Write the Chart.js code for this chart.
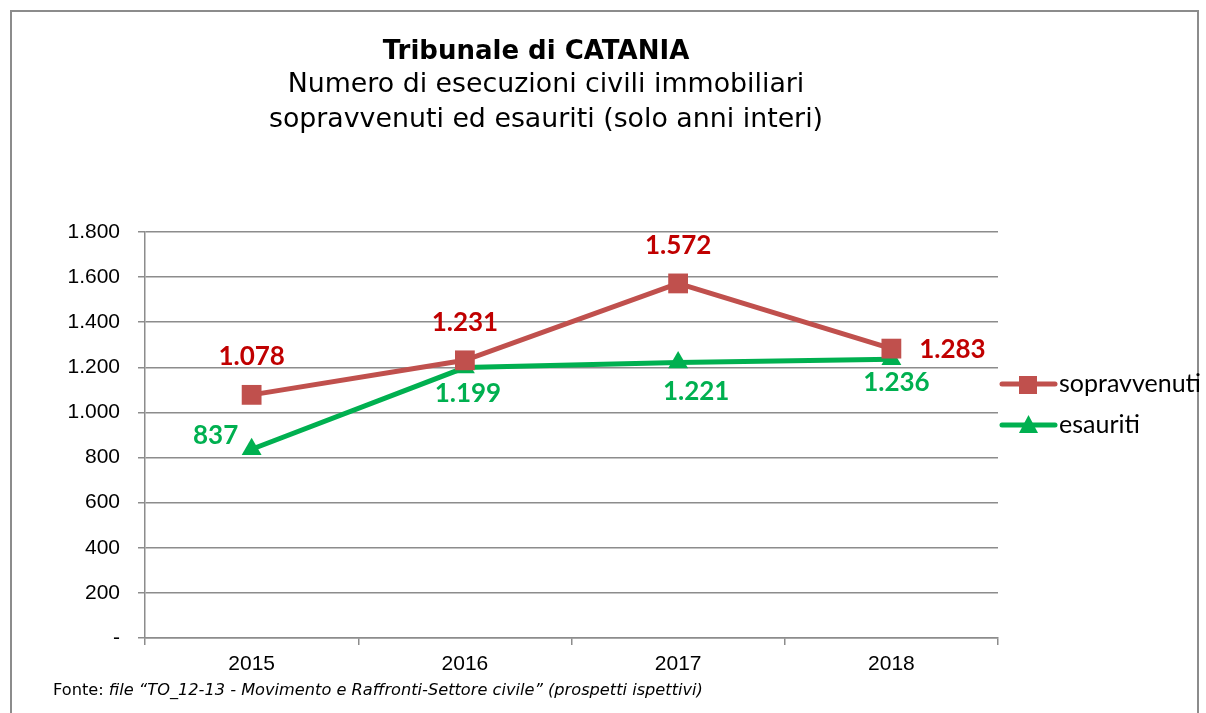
<!DOCTYPE html>
<html>
<head>
<meta charset="utf-8">
<script src="https://cdn.jsdelivr.net/npm/chart.js@4/dist/chart.umd.min.js"></script>
<style>
  html, body { margin: 0; padding: 0; background: #fff; }
  #wrap { position: relative; width: 1206px; height: 713px; overflow: hidden; }
  #frame { position: absolute; left: 10px; top: 10px; width: 1189px; height: 720px; border: 2px solid #8c8c8c; box-sizing: border-box; }
  #title { position: absolute; left: 146px; width: 800px; top: 31px; text-align: center; font-family: "DejaVu Sans", sans-serif; color: #000; }
  #title .t1 { font-weight: bold; font-size: 26px; line-height: 35px; position: relative; left: -10px; top: 2px; }
  #title .t2 { font-size: 26.8px; line-height: 35px; position: relative; top: -1px; }
  #footer { position: absolute; left: 53px; top: 680px; font-family: "DejaVu Sans", sans-serif; font-size: 16.2px; color: #000; }
  #footer i { font-style: italic; }
  canvas { position: absolute; left: 0; top: 0; }
</style>
</head>
<body>
<div id="wrap">
  <div id="frame"></div>
  <canvas id="chart" width="1206" height="713"></canvas>
  <div id="title">
    <div class="t1">Tribunale di CATANIA</div>
    <div class="t2">Numero di esecuzioni civili immobiliari</div>
    <div class="t2">sopravvenuti ed esauriti (solo anni interi)</div>
  </div>
  <div id="footer">Fonte: <i>file “TO_12-13 - Movimento e Raffronti-Settore civile” (prospetti ispettivi)</i></div>
</div>
<script>
  "use strict";

  // ====
  // Data
  // ====
  const years = ["2015", "2016", "2017", "2018"];
  const sopravvenuti = [1078, 1231, 1572, 1283];
  const esauriti = [837, 1199, 1221, 1236];
  const seriesNames = ["sopravvenuti", "esauriti"];
  const yTicks = [0, 200, 400, 600, 800, 1000, 1200, 1400, 1600, 1800];

  // label placement per point: [dx, dy] from the point (pixels)
  const sopLabelPos = [[0, -38], [0, -38], [0, -38], [61, 1]];
  const esaLabelPos = [[-36, -14], [3, 26], [18, 29], [5, 23]];

  const fmt = (v) => (v === 0 ? "-" : v.toLocaleString("de-DE"));

  // ===============
  // Custom plugins
  // ===============
  const dataLabels = {
    id: "dataLabels",
    afterDatasetsDraw(chart) {
      const ctx = chart.ctx;
      ctx.save();
      ctx.font = "bold 26px Lato, 'Noto Sans', sans-serif";
      ctx.textAlign = "center";
      ctx.textBaseline = "middle";
      chart.data.datasets.forEach((ds, i) => {
        const meta = chart.getDatasetMeta(i);
        meta.data.forEach((pt, j) => {
          const off = ds.labelPos[j];
          ctx.fillStyle = ds.labelColor;
          ctx.fillText(fmt(ds.data[j]), pt.x + off[0], pt.y + off[1]);
        });
      });
      ctx.restore();
    },
  };

  const sideLegend = {
    id: "sideLegend",
    afterDraw(chart) {
      const ctx = chart.ctx;
      ctx.save();
      const x0 = 1000;
      const rows = [384, 425];
      chart.data.datasets.forEach((ds, i) => {
        const y = rows[i];
        ctx.strokeStyle = ds.borderColor;
        ctx.lineWidth = 5;
        ctx.lineCap = "round";
        ctx.beginPath();
        ctx.moveTo(x0 + 2, y);
        ctx.lineTo(x0 + 55, y);
        ctx.stroke();
        ctx.fillStyle = ds.pointBackgroundColor;
        if (ds.pointStyle === "rect") {
          ctx.fillRect(x0 + 19, y - 8, 18, 18);
        } else {
          ctx.beginPath();
          ctx.moveTo(x0 + 28.5, y - 10);
          ctx.lineTo(x0 + 38, y + 8);
          ctx.lineTo(x0 + 19, y + 8);
          ctx.closePath();
          ctx.fill();
        }
        ctx.fillStyle = "#000";
        ctx.font = "25px Lato, 'Noto Sans', sans-serif";
        ctx.textAlign = "left";
        ctx.textBaseline = "middle";
        ctx.fillText(ds.label, x0 + 59, y);
      });
      ctx.restore();
    },
  };

  // ===============
  // Chart
  // ===============
  new Chart(document.getElementById("chart"), {
    type: "line",
    data: {
      labels: years,
      datasets: [
        {
          label: seriesNames[0],
          data: sopravvenuti,
          borderColor: "#C0504D",
          backgroundColor: "#C0504D",
          pointBackgroundColor: "#C0504D",
          pointBorderColor: "#C0504D",
          pointBorderWidth: 0,
          pointStyle: "rect",
          pointRadius: 14,
          borderWidth: 5,
          labelColor: "#C00000",
          labelPos: sopLabelPos,
        },
        {
          label: seriesNames[1],
          data: esauriti,
          borderColor: "#00B050",
          backgroundColor: "#00B050",
          pointBackgroundColor: "#00B050",
          pointBorderColor: "#00B050",
          pointBorderWidth: 0,
          pointStyle: "triangle",
          pointRadius: 11.5,
          borderWidth: 5,
          labelColor: "#00B050",
          labelPos: esaLabelPos,
        },
      ],
    },
    options: {
      responsive: false,
      animation: false,
      layout: { padding: { left: 0, top: 232, right: 208, bottom: 35 } },
      plugins: {
        legend: { display: false },
        title: { display: false },
        tooltip: { enabled: false },
      },
      scales: {
        x: {
          offset: true,
          grid: {
            offset: true,
            drawOnChartArea: false,
            drawTicks: true,
            tickLength: 7,
            color: "#8c8c8c",
            lineWidth: 1.5,
          },
          border: { color: "#8c8c8c", width: 1.5 },
          ticks: {
            color: "#000",
            font: { family: "'Liberation Sans', Arial, sans-serif", size: 21 },
            padding: 7,
          },
          afterFit(scale) {
            scale.height = 40;
          },
        },
        y: {
          min: 0,
          max: 1800,
          afterBuildTicks(scale) {
            scale.ticks = yTicks.map((v) => ({ value: v }));
          },
          grid: {
            color: "#8c8c8c",
            lineWidth: 1.5,
            tickLength: 7,
          },
          border: { color: "#8c8c8c", width: 1.5 },
          ticks: {
            color: "#000",
            font: { family: "'Liberation Sans', Arial, sans-serif", size: 21 },
            padding: 18,
            callback: (v) => fmt(v),
          },
          afterFit(scale) {
            scale.width = 145;
          },
        },
      },
    },
    plugins: [dataLabels, sideLegend],
  });
</script>
</body>
</html>
